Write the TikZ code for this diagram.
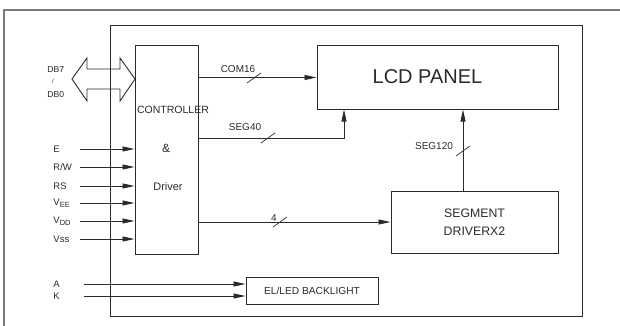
\documentclass[tikz,border=0pt]{standalone}
\usepackage{fontspec}
\setmainfont{Liberation Sans}
\usetikzlibrary{arrows.meta,positioning}
\definecolor{ink}{HTML}{2A2A2A}
\definecolor{framegray}{HTML}{7A7A7A}
\newcommand{\fsz}[1]{\fontsize{#1}{#1}\selectfont}
\newcommand{\lowsub}[1]{\raisebox{-2pt}{\fsz{7.5}#1}}
\begin{document}
\begin{tikzpicture}[x=1pt, y=-1pt, line width=0.9pt,
    every node/.style={text=ink, inner sep=0pt},
    blk/.style={draw=ink, line width=1pt},
    sig/.style={draw=ink, -{Triangle[length=12pt,width=5pt]}},
    lbl/.style={font=\fsz{10}},
    pin/.style={anchor=west, font=\fsz{9.5}}]
  \useasboundingbox (0,0) rectangle (620,326);
  % Outer frame and board outline
  \draw[framegray, line width=2pt] (620,10) -- (4,10) -- (4,326);
  \draw[ink] (110,25) rectangle (582,316);
  % Blocks
  \node[blk, minimum width=63pt, minimum height=208pt] (ctrl) at (166.5,150) {};
  \node[font=\fsz{10.5}] (ctrlA) at (173,110) {CONTROLLER};
  \node[font=\fsz{12}] (ctrlB) at (166,148) {\&};
  \node[font=\fsz{10.9}] (ctrlC) at (168,187) {Driver};
  \node[blk, minimum width=241pt, minimum height=63pt] (lcd) at (437.5,77.5) {};
  \node[font=\fsz{20}] (lcdtxt) at (427.5,77) {LCD PANEL};
  \node[blk, minimum width=167pt, minimum height=62pt, align=center,
    font=\fontsize{12.3}{18}\selectfont] (seg) at (474.5,222) {SEGMENT\\DRIVERX2};
  \node[blk, minimum width=132pt, minimum height=27pt, font=\fsz{10.2}] (bl) at (312,290.5) {EL/LED BACKLIGHT};
  % Data bus
  \draw[ink] (72,79) -- (87,58) -- (87,69) -- (120,69) -- (120,58) -- (135,79)
    -- (120,101) -- (120,89) -- (87,89) -- (87,101) -- cycle;
  \node[anchor=west, font=\fsz{8.6}] (db7) at (47,70) {DB7};
  \node[font=\fsz{6}] (dbsl) at (53,81) {/};
  \node[anchor=west, font=\fsz{8.6}] (db0) at (47,95) {DB0};
  % Control inputs
  \foreach \lab/\yy [count=\i] in {E/149, {R/W}/167, RS/186,
      V\lowsub{EE}/203, V\lowsub{DD}/221, Vss/239} {
    \node[pin] (pin\i) at (53,\yy) {\lab};
    \coordinate (src\i) at (80,\yy);
    \draw[sig] (src\i) -- (src\i -| ctrl.west);
  }
  % Backlight inputs
  \foreach \lab/\yy in {A/284, K/296} {
    \node[pin] (pin\lab) at (53,\yy) {\lab};
    \coordinate (src\lab) at (84,\yy);
    \draw[sig] (src\lab) -- (src\lab -| bl.west);
  }
  % Buses to panel and segment driver
  \coordinate (seg40) at (344,138);
  \coordinate (s120) at (463,151);
  \draw[sig] (ctrl.east |- lcd.west) -- (lcd.west);
  \draw[sig] (ctrl.east |- seg40) -- (seg40) -- (seg40 |- lcd.south);
  \draw[sig] (seg.north -| s120) -- (s120 |- lcd.south);
  \draw[sig] (ctrl.east |- seg.west) -- (seg.west);
  \node[lbl] (com16) at (238,69) {COM16};
  \node[lbl] (seg40l) at (245,127) {SEG40};
  \node[lbl] (seg120) at (434,146) {SEG120};
  \node[lbl] (four) at (274,218) {4};
  % Bus width marks
  \coordinate (m1) at (254,78);
  \coordinate (m2) at (268,138);
  \coordinate (m3) at (s120);
  \coordinate (m4) at (280,222);
  \foreach \m in {m1,m2,m3,m4}
    \draw[ink, line width=0.7pt] ([shift={(-7,5)}]\m) -- ([shift={(7,-5)}]\m);
\end{tikzpicture}
\end{document}
